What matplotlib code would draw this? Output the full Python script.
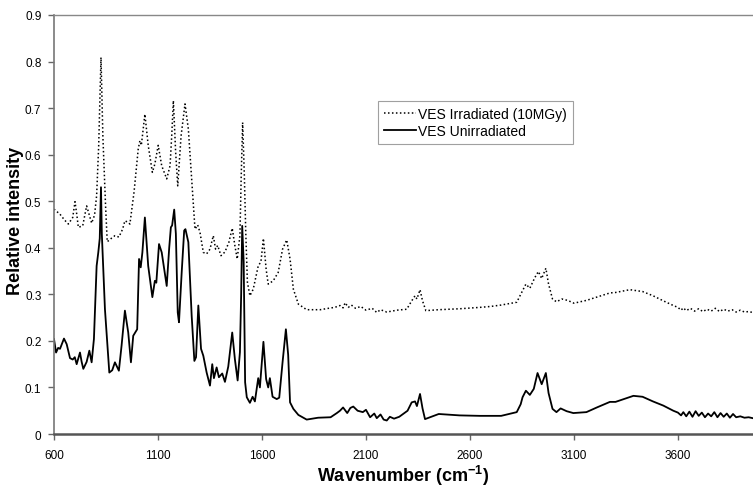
import matplotlib
matplotlib.use("Agg")
import matplotlib.pyplot as plt
from matplotlib.ticker import FuncFormatter

plt.rcParams["font.family"] = ["Liberation Sans", "DejaVu Sans"]

# VES irradiated (10MGy) - dotted trace
irr_wn = [600, 629, 650, 669, 690, 701, 710, 717, 738, 757, 770, 781, 795, 805, 815,
          826, 835, 848, 856, 875, 893, 912, 930, 941, 955, 965, 985, 1005, 1013, 1020,
          1037, 1053, 1073, 1085, 1101, 1118, 1142, 1158, 1166, 1174, 1185, 1195, 1211,
          1230, 1246, 1262, 1278, 1291, 1302, 1318, 1334, 1350, 1366, 1377, 1387, 1403,
          1422, 1441, 1457, 1470, 1481, 1494, 1500, 1507, 1515, 1522, 1530, 1542, 1558,
          1582, 1595, 1607, 1620, 1630, 1654, 1678, 1699, 1719, 1735, 1751, 1775, 1815,
          1880, 1920, 1950, 1975, 1990, 2000, 2015, 2030, 2050, 2075, 2100, 2130, 2152,
          2170, 2200, 2250, 2296, 2320, 2336, 2345, 2360, 2372, 2388, 2450, 2550, 2648,
          2700, 2750, 2825, 2849, 2869, 2888, 2912, 2929, 2945, 2965, 2978, 2997, 3016,
          3042, 3070, 3100, 3160, 3210, 3273, 3300, 3369, 3430, 3480, 3530, 3578, 3600,
          3615, 3626, 3640, 3660, 3680, 3700, 3720, 3740, 3760, 3780, 3800, 3820, 3840,
          3860, 3880, 3900, 3920, 3940, 3960]
irr_val = [0.483, 0.472, 0.460, 0.451, 0.465, 0.499, 0.470, 0.444, 0.447, 0.490, 0.470,
           0.453, 0.470, 0.512, 0.620, 0.809, 0.640, 0.490, 0.413, 0.420, 0.426, 0.423,
           0.440, 0.458, 0.455, 0.451, 0.520, 0.612, 0.630, 0.620, 0.687, 0.620, 0.562,
           0.580, 0.620, 0.576, 0.548, 0.576, 0.640, 0.716, 0.605, 0.533, 0.640, 0.709,
           0.655, 0.548, 0.440, 0.449, 0.433, 0.390, 0.387, 0.397, 0.426, 0.397, 0.405,
           0.383, 0.391, 0.412, 0.442, 0.404, 0.376, 0.426, 0.550, 0.669, 0.560, 0.434,
           0.326, 0.297, 0.311, 0.361, 0.370, 0.420, 0.354, 0.322, 0.329, 0.347, 0.397,
           0.417, 0.376, 0.311, 0.279, 0.267, 0.267, 0.270, 0.272, 0.276, 0.271, 0.282,
           0.272, 0.277, 0.270, 0.274, 0.266, 0.270, 0.261, 0.267, 0.262, 0.266, 0.268,
           0.286, 0.297, 0.290, 0.310, 0.286, 0.265, 0.267, 0.269, 0.272, 0.274, 0.277,
           0.283, 0.304, 0.322, 0.313, 0.336, 0.349, 0.334, 0.356, 0.322, 0.290, 0.284,
           0.290, 0.287, 0.281, 0.287, 0.294, 0.303, 0.304, 0.310, 0.306, 0.297, 0.286,
           0.276, 0.272, 0.266, 0.271, 0.265, 0.270, 0.264, 0.269, 0.263, 0.268, 0.264,
           0.270, 0.263, 0.268, 0.264, 0.267, 0.262, 0.266, 0.262, 0.263, 0.261]

# VES unirradiated - solid trace
unirr_wn = [600, 610, 620, 629, 648, 661, 677, 690, 700, 709, 725, 733, 741, 757, 770,
            781, 792, 805, 813, 820, 826, 830, 845, 866, 880, 893, 912, 925, 941, 957,
            970, 981, 1000, 1009, 1017, 1025, 1037, 1053, 1073, 1085, 1092, 1105, 1118,
            1130, 1142, 1154, 1162, 1168, 1178, 1186, 1195, 1201, 1214, 1226, 1232, 1246,
            1262, 1275, 1283, 1294, 1307, 1318, 1334, 1350, 1361, 1369, 1382, 1393, 1409,
            1422, 1438, 1457, 1470, 1483, 1494, 1500, 1505, 1512, 1519, 1527, 1542, 1555,
            1566, 1582, 1590, 1607, 1620, 1630, 1638, 1651, 1671, 1683, 1699, 1715, 1726,
            1735, 1751, 1775, 1815, 1870, 1930, 1960, 1975, 1990, 2010, 2025, 2039, 2060,
            2085, 2100, 2120, 2140, 2152, 2170, 2185, 2200, 2215, 2235, 2260, 2300, 2320,
            2336, 2345, 2360, 2372, 2384, 2450, 2550, 2648, 2750, 2825, 2844, 2853, 2869,
            2888, 2907, 2925, 2945, 2965, 2978, 2997, 3016, 3036, 3065, 3097, 3160, 3210,
            3273, 3300, 3386, 3430, 3480, 3530, 3578, 3600, 3615, 3626, 3640, 3655, 3670,
            3685, 3700, 3715, 3730, 3745, 3760, 3775, 3790, 3805, 3820, 3835, 3850, 3865,
            3880, 3900, 3920, 3940, 3960]
unirr_val = [0.204, 0.175, 0.185, 0.183, 0.205, 0.193, 0.163, 0.160, 0.165, 0.150, 0.175,
             0.155, 0.140, 0.155, 0.179, 0.154, 0.204, 0.361, 0.390, 0.420, 0.530, 0.430,
             0.268, 0.132, 0.137, 0.154, 0.136, 0.190, 0.265, 0.218, 0.154, 0.211, 0.225,
             0.376, 0.358, 0.390, 0.465, 0.361, 0.294, 0.329, 0.325, 0.408, 0.390, 0.354,
             0.318, 0.400, 0.444, 0.448, 0.482, 0.430, 0.261, 0.240, 0.347, 0.437, 0.440,
             0.412, 0.254, 0.157, 0.165, 0.276, 0.183, 0.168, 0.132, 0.104, 0.150, 0.120,
             0.143, 0.122, 0.130, 0.112, 0.145, 0.218, 0.160, 0.115, 0.176, 0.300, 0.447,
             0.370, 0.111, 0.079, 0.067, 0.080, 0.070, 0.120, 0.100, 0.198, 0.118, 0.100,
             0.120, 0.080, 0.075, 0.078, 0.154, 0.225, 0.170, 0.068, 0.054, 0.041, 0.031,
             0.035, 0.036, 0.045, 0.050, 0.057, 0.045, 0.056, 0.059, 0.050, 0.047, 0.052,
             0.036, 0.044, 0.034, 0.042, 0.031, 0.029, 0.037, 0.033, 0.037, 0.050, 0.068,
             0.070, 0.060, 0.086, 0.055, 0.032, 0.043, 0.040, 0.039, 0.039, 0.047, 0.064,
             0.079, 0.093, 0.084, 0.097, 0.131, 0.107, 0.131, 0.088, 0.054, 0.047, 0.055,
             0.049, 0.045, 0.047, 0.057, 0.069, 0.069, 0.082, 0.080, 0.070, 0.061, 0.050,
             0.046, 0.040, 0.047, 0.038, 0.048, 0.037, 0.049, 0.039, 0.046, 0.036, 0.044,
             0.038, 0.047, 0.036, 0.045, 0.037, 0.044, 0.035, 0.043, 0.036, 0.038, 0.035,
             0.036, 0.034]

x_ticks = [600, 1100, 1600, 2100, 2600, 3100, 3600]
y_ticks = [0, 0.1, 0.2, 0.3, 0.4, 0.5, 0.6, 0.7, 0.8, 0.9]

fig = plt.figure(figsize=(7.53, 4.89), dpi=100)
ax = fig.add_axes([0.0717, 0.1104, 0.9283, 0.8569])

ax.plot(irr_wn, irr_val, color="black", lw=1.1, linestyle=(0, (1, 1.6)),
        label="VES Irradiated (10MGy)")
ax.plot(unirr_wn, unirr_val, color="black", lw=1.3, label="VES Unirradiated")

ax.set_xlim(600, 3961)
ax.set_ylim(0, 0.9)
ax.set_xticks(x_ticks)
ax.set_yticks(y_ticks)
ax.yaxis.set_major_formatter(FuncFormatter(lambda v, p: "0" if v == 0 else f"{v:.1f}"))
ax.tick_params(axis="both", direction="out", length=4, width=1, color="#666666",
               labelsize=8.5)
ax.tick_params(axis="x", pad=7)
ax.tick_params(axis="y", pad=5)

ax.spines["right"].set_visible(False)
ax.spines["top"].set_color("#888888")
ax.spines["top"].set_linewidth(1.0)
ax.spines["left"].set_color("#777777")
ax.spines["left"].set_linewidth(1.2)
ax.spines["bottom"].set_color("#555555")
ax.spines["bottom"].set_linewidth(1.8)

ax.set_xlabel("Wavenumber (cm$^{\\mathregular{-1}}$)", fontsize=13, fontweight="bold")
ax.xaxis.set_label_coords(0.5, -0.069)
ax.set_ylabel("Relative intensity", fontsize=13, fontweight="bold")
ax.yaxis.set_label_coords(-0.043, 0.51)

leg = ax.legend(loc="upper left", bbox_to_anchor=(0.4635, 0.795), borderaxespad=0,
                fontsize=10, frameon=True, fancybox=False, handlelength=2.3,
                handletextpad=0.15, borderpad=0.45, labelspacing=0.2)
leg.get_frame().set_edgecolor("#888888")
leg.get_frame().set_linewidth(0.8)

fig.savefig("out.png", dpi=100)
